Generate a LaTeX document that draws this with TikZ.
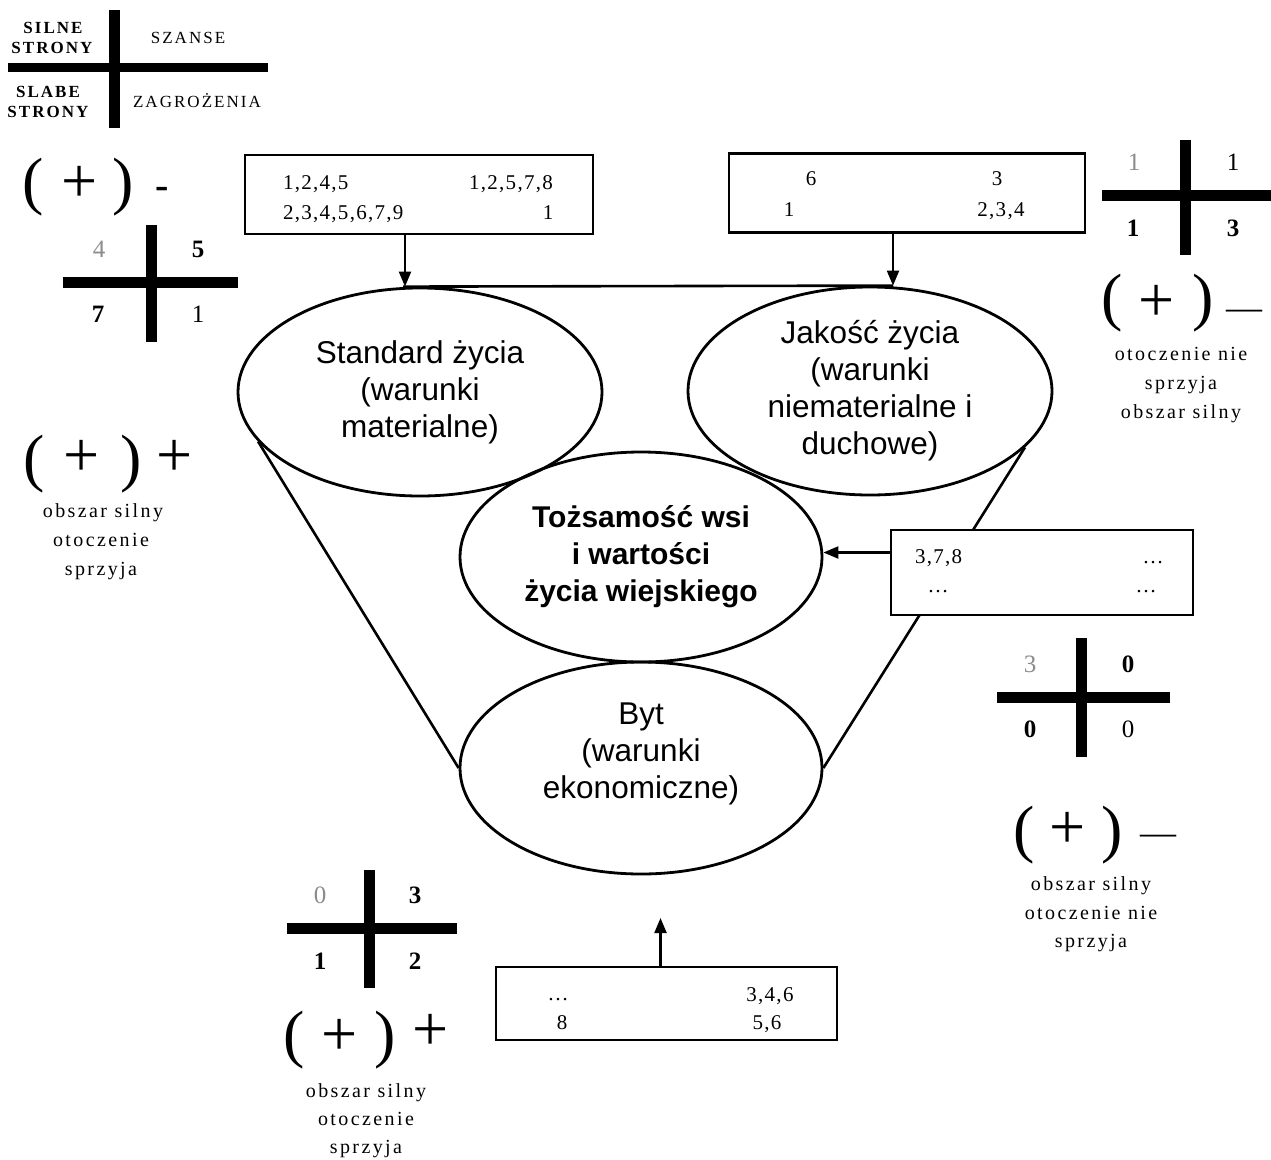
\documentclass[tikz,border=0pt]{standalone}
\usepackage{fontspec}
\setmainfont{Liberation Serif}
\newfontfamily\spacedserif[LetterSpace=12]{Liberation Serif}
\newfontfamily\numserif[LetterSpace=6]{Liberation Serif}
\newfontfamily\sansfam{Liberation Sans}
\usetikzlibrary{shapes.geometric,arrows.meta}
\begin{document}
\begin{tikzpicture}[x=1pt,y=-1pt,
  ell/.style={draw, ellipse, line width=2.8pt, inner sep=0pt, minimum width=364pt, minimum height=208pt, align=center, font=\sansfam\fontsize{31.5}{37}\selectfont},
  boxn/.style={draw, fill=white, line width=2.2pt, inner sep=0pt},
  arr/.style={line width=2.2pt, -{Triangle[length=15pt,width=12pt]}},
  funnel/.style={line width=2.6pt},
  barline/.style={line width=11pt},
  boxtxt/.style={font=\numserif\fontsize{21}{21}\selectfont, inner sep=0pt, anchor=base},
  numb/.style={font=\numserif\fontsize{25}{25}\selectfont\bfseries, inner sep=0pt, anchor=base},
  numr/.style={font=\numserif\fontsize{25}{25}\selectfont, inner sep=0pt, anchor=base},
  numgrey/.style={font=\numserif\fontsize{25}{25}\selectfont, text=black!45, inner sep=0pt, anchor=base},
  captxt/.style={font=\spacedserif\fontsize{20}{20}\selectfont, inner sep=0pt, anchor=base},
  legb/.style={font=\spacedserif\fontsize{17}{17}\selectfont\bfseries, inner sep=0pt, anchor=base},
  legr/.style={font=\spacedserif\fontsize{17}{17}\selectfont, inner sep=0pt, anchor=base},
  parn/.style={font=\fontsize{64}{64}\selectfont, inner sep=0pt},
  plussym/.style={font=\fontsize{64}{64}\selectfont, inner sep=0pt},
  dashsym/.style={font=\fontsize{36}{36}\selectfont, inner sep=0pt},
  hyph/.style={font=\fontsize{40}{40}\selectfont\bfseries, inner sep=0pt}
]
\fill[white] (0,0) rectangle (1271,1159);
\useasboundingbox (0,0) rectangle (1271,1159);

% ---------- legend ----------
\draw[barline] (114,10) -- (114,128);
\draw[line width=9pt] (8,67) -- (268,67);
\node[legb] (l1) at (53,33) {SILNE};
\node[legb] (l2) at (52,53) {STRONY};
\node[legr] (l3) at (188,43) {SZANSE};
\node[legb] (l4) at (48,97) {SLABE};
\node[legb] (l5) at (48,117) {STRONY};
\node[legr] (l6) at (197,107) {ZAGROŻENIA};

% ---------- ellipses ----------
\node[ell] (std) at (420,392) {Standard życia\\(warunki\\materialne)};
\node[ell] (jak) at (870,391) {Jakość życia\\(warunki\\niematerialne i\\duchowe)};
\node[ell, minimum width=362pt, minimum height=210pt, font=\sansfam\bfseries\fontsize{30}{37}\selectfont] (tz) at (641,557) {Tożsamość wsi\\i wartości\\życia wiejskiego};
\node[ell, minimum width=362pt, minimum height=212pt] (byt) at (641,768) {};
\node[align=center, inner sep=0pt, font=\sansfam\fontsize{31.5}{37}\selectfont] (byttxt) at (641,754) {Byt\\(warunki\\ekonomiczne)};

% funnel lines
\draw[funnel] ([xshift=-17pt]std.north) -- ([xshift=23pt]jak.north);
\draw[funnel] (std.197) -- (byt.180);
\draw[funnel] (jak.340) -- (byt.0);

% ---------- boxes ----------
\node[boxn, minimum width=348pt, minimum height=79pt] (box1) at (419,194.5) {};
\node[boxtxt, anchor=base west] (b1a) at (283,189) {1,2,4,5};
\node[boxtxt, anchor=base east] (b1b) at (553,189) {1,2,5,7,8};
\node[boxtxt, anchor=base west] (b1c) at (283,219) {2,3,4,5,6,7,9};
\node[boxtxt] (b1d) at (548,219) {1};

\node[boxn, minimum width=356pt, minimum height=79pt] (box2) at (907,193) {};
\node[boxtxt] (b2a) at (811,185) {6};
\node[boxtxt] (b2b) at (997,185) {3};
\node[boxtxt] (b2c) at (789,216) {1};
\node[boxtxt] (b2d) at (1001,216) {2,3,4};

\node[boxn, minimum width=302pt, minimum height=85pt] (box3) at (1042,572.5) {};
\node[boxtxt, anchor=base west] (b3a) at (915,563) {3,7,8};
\node[boxtxt] (b3b) at (1153,563) {…};
\node[boxtxt] (b3c) at (938,592) {…};
\node[boxtxt] (b3d) at (1146,592) {…};

\node[boxn, minimum width=341pt, minimum height=73pt] (box4) at (666.5,1003.5) {};
\node[boxtxt] (b4a) at (558,1000) {…};
\node[boxtxt] (b4b) at (562,1029) {8};
\node[boxtxt] (b4c) at (770,1001) {3,4,6};
\node[boxtxt] (b4d) at (767,1029) {5,6};

% arrows
\draw[arr] ([xshift=-14pt]box1.south) -- ([xshift=-14pt]box1.south |- std.north);
\draw[arr] ([xshift=-14pt]box2.south) -- ([xshift=-14pt]box2.south |- jak.north);
\draw[arr] ([yshift=20pt]box3.west) -- ([yshift=20pt]box3.west -| tz.east);
\coordinate (bytin) at (660.5,918);
\draw[arr] (box4.north -| bytin) -- (bytin);

% ---------- cross 1 (top left) ----------
\draw[barline] (151,225) -- (151,342);
\draw[barline] (63,282) -- (238,282);
\node[numgrey] (c1a) at (99,257) {4};
\node[numb] (c1b) at (198,257) {5};
\node[numb] (c1c) at (98,322) {7};
\node[numr] (c1d) at (198,322) {1};
\node[parn] (p1a) at (33,187) {(};
\node[plussym] (p1b) at (80,184) {+};
\node[parn] (p1c) at (123,187) {)};
\node[hyph] (p1d) at (162,193) {-};

% ---------- cross 2 (top right) ----------
\draw[barline] (1185,140) -- (1185,255);
\draw[barline] (1102,195) -- (1271,195);
\node[numgrey] (c2a) at (1134,170) {1};
\node[numr] (c2b) at (1233,170) {1};
\node[numb] (c2c) at (1133,236) {1};
\node[numb] (c2d) at (1233,236) {3};
\node[parn] (p2a) at (1112,303) {(};
\node[plussym] (p2b) at (1157,303) {+};
\node[parn] (p2c) at (1203,303) {)};
\node[dashsym] (p2d) at (1244,315) {—};
\node[captxt] (t2a) at (1181,360) {otoczenie nie};
\node[captxt] (t2b) at (1181,389) {sprzyja};
\node[captxt] (t2c) at (1181,418) {obszar silny};

% ---------- left middle ----------
\node[parn] (p3a) at (34,464) {(};
\node[plussym] (p3b) at (82,458) {+};
\node[parn] (p3c) at (131,464) {)};
\node[plussym] (p3d) at (175,458) {+};
\node[captxt] (t3a) at (103,517) {obszar silny};
\node[captxt] (t3b) at (101,546) {otoczenie};
\node[captxt] (t3c) at (101,575) {sprzyja};

% ---------- cross 3 (right middle) ----------
\draw[barline] (1081,638) -- (1081,757);
\draw[barline] (997,697) -- (1170,697);
\node[numgrey] (c3a) at (1030,672) {3};
\node[numb] (c3b) at (1128,672) {0};
\node[numb] (c3c) at (1030,737) {0};
\node[numr] (c3d) at (1128,737) {0};
\node[parn] (p4a) at (1024,835) {(};
\node[plussym] (p4b) at (1068,830) {+};
\node[parn] (p4c) at (1112,835) {)};
\node[dashsym] (p4d) at (1158,840) {—};
\node[captxt] (t4a) at (1091,890) {obszar silny};
\node[captxt] (t4b) at (1091,919) {otoczenie nie};
\node[captxt] (t4c) at (1091,947) {sprzyja};

% ---------- cross 4 (bottom left) ----------
\draw[barline] (369,870) -- (369,988);
\draw[barline] (287,928) -- (457,928);
\node[numgrey] (c4a) at (320,903) {0};
\node[numb] (c4b) at (415,903) {3};
\node[numb] (c4c) at (320,969) {1};
\node[numb] (c4d) at (415,969) {2};
\node[parn] (p5a) at (294,1040) {(};
\node[plussym] (p5b) at (340,1037) {+};
\node[parn] (p5c) at (385,1040) {)};
\node[plussym] (p5d) at (431,1032) {+};
\node[captxt] (t5a) at (366,1097) {obszar silny};
\node[captxt] (t5b) at (366,1125) {otoczenie};
\node[captxt] (t5c) at (366,1153) {sprzyja};
\end{tikzpicture}
\end{document}
